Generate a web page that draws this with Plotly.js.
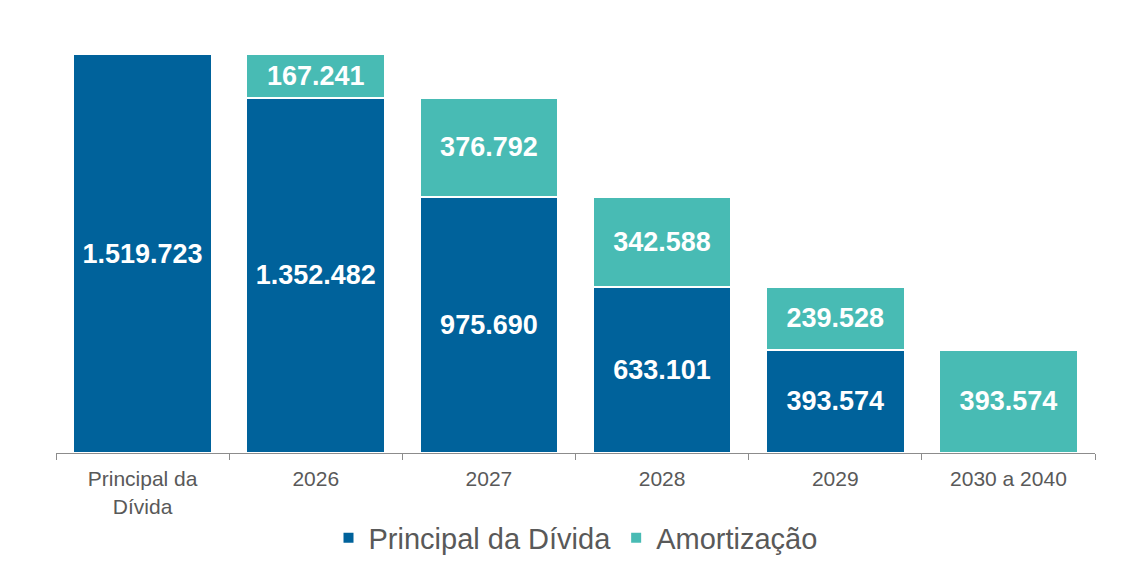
<!DOCTYPE html>
<html>
<head>
<meta charset="utf-8">
<script src="https://cdn.plot.ly/plotly-3.0.1.min.js"></script>
<style>
  body { margin: 0; background: #fff; }
  #chart { width: 1143px; height: 581px; }
</style>
</head>
<body>
<div id="chart"></div>
<script>
// categorias do eixo x
var categorias = ['Principal da<br>Dívida', '2026', '2027', '2028', '2029', '2030 a 2040'];

// valores
var principal = [1519723, 1352482, 975690, 633101, 393574, null];
var amortizacao = [null, 167241, 376792, 342588, 239528, 393574];

var azul = '#00629B';
var verde = '#48BBB4';

var trace1 = {
  x: categorias,
  y: principal,
  name: 'Principal da Dívida',
  type: 'bar',
  marker: { color: azul, line: { color: '#ffffff', width: 2 } },
  texttemplate: '%{y:,.0f}',
  textposition: 'inside',
  insidetextanchor: 'middle',
  textfont: { color: '#ffffff', size: 27, family: 'Liberation Sans, Arial, sans-serif', weight: 'bold' },
  hoverinfo: 'skip'
};

var trace2 = {
  x: categorias,
  y: amortizacao,
  name: 'Amortização',
  type: 'bar',
  marker: { color: verde, line: { color: '#ffffff', width: 2 } },
  texttemplate: '%{y:,.0f}',
  textposition: 'inside',
  insidetextanchor: 'middle',
  textfont: { color: '#ffffff', size: 27, family: 'Liberation Sans, Arial, sans-serif', weight: 'bold' },
  hoverinfo: 'skip'
};

var layout = {
  width: 1143,
  height: 581,
  barmode: 'stack',
  bargap: 0.2,
  separators: ',.',
  margin: { l: 56, r: 48, t: 33, b: 128 },
  paper_bgcolor: '#ffffff',
  plot_bgcolor: '#ffffff',
  font: { family: 'Liberation Sans, Arial, sans-serif', color: '#595959' },
  xaxis: {
    type: 'category',
    showline: true,
    linecolor: '#8c8c8c',
    linewidth: 1,
    ticks: 'outside',
    tickson: 'boundaries',
    ticklen: 6,
    tickcolor: '#8c8c8c',
    ticklabelstandoff: 7,
    tickfont: { size: 21, color: '#595959' },
    showgrid: false,
    zeroline: false
  },
  yaxis: {
    range: [0, 1600000],
    visible: false,
    showgrid: false,
    zeroline: false
  },
  showlegend: true,
  legend: {
    orientation: 'h',
    x: 0.5,
    xanchor: 'center',
    yref: 'container',
    y: 0.074,
    yanchor: 'middle',
    font: { size: 29, color: '#595959' },
    traceorder: 'normal'
  }
};

Plotly.newPlot('chart', [trace1, trace2], layout, { displayModeBar: false, staticPlot: true });
</script>
</body>
</html>
